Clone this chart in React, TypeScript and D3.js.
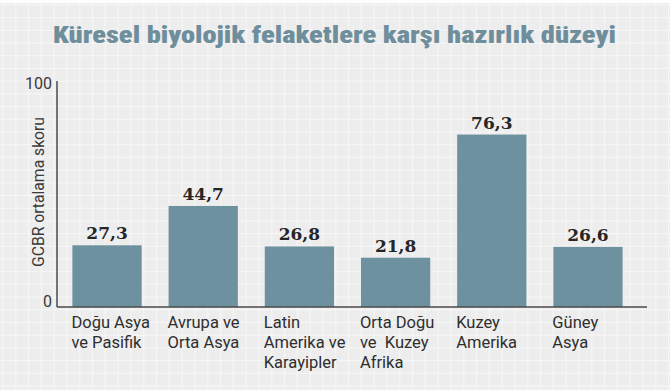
import React, { useRef, useEffect } from 'react';
import * as d3 from 'd3';

// data
const categories = [
  'Doğu Asya ve Pasifik',
  'Avrupa ve Orta Asya',
  'Latin Amerika ve Karayipler',
  'Orta Doğu ve Kuzey Afrika',
  'Kuzey Amerika',
  'Güney Asya',
];
const categoryLines = [
  ['Doğu Asya', 've Pasifik'],
  ['Avrupa ve', 'Orta Asya'],
  ['Latin', 'Amerika ve', 'Karayipler'],
  ['Orta Doğu', 've  Kuzey', 'Afrika'],
  ['Kuzey', 'Amerika'],
  ['Güney', 'Asya'],
];
const scores = [27.3, 44.7, 26.8, 21.8, 76.3, 26.6];
const yTicks = [0, 100];

const title = 'Küresel biyolojik felaketlere karşı hazırlık düzeyi';
const yLabel = 'GCBR ortalama skoru';

const W = 670;
const H = 390;

export default function App() {
  const svgRef = useRef<SVGSVGElement>(null);

  useEffect(() => {
    const svg = d3.select(svgRef.current);
    svg.selectAll('*').remove();

    const left = 57;
    const right = 647;
    const top = 81;
    const bottom = 307;

    // background + faint grid
    svg.append('rect').attr('width', W).attr('height', H).attr('fill', '#ededed');
    const grid = svg.append('g').attr('stroke', '#f7f7f7').attr('stroke-width', 1);
    d3.range(3, W, 12.8).forEach(gx => {
      grid.append('line').attr('x1', gx).attr('x2', gx).attr('y1', 0).attr('y2', H);
    });
    d3.range(5, H, 12.7).forEach(gy => {
      grid.append('line').attr('x1', 0).attr('x2', W).attr('y1', gy).attr('y2', gy);
    });
    svg.append('rect').attr('width', W).attr('height', 3).attr('fill', '#ffffff');

    // title
    svg.append('text')
      .attr('x', 334.5)
      .attr('y', 43)
      .attr('text-anchor', 'middle')
      .attr('textLength', 563)
      .attr('lengthAdjust', 'spacingAndGlyphs')
      .attr('font-family', "'Roboto Condensed', 'Liberation Sans Narrow', Roboto, sans-serif")
      .attr('font-weight', 900)
      .attr('font-size', 24)
      .attr('fill', '#6f8e9c')
      .text(title);

    const x = d3.scaleBand()
      .domain(categories)
      .range([left, 638])
      .paddingInner(0.28)
      .paddingOuter(0.16);

    const y = d3.scaleLinear().domain([0, 100]).range([bottom, top]);

    const fmt = d3.formatLocale({ decimal: ',', thousands: '.', grouping: [3], currency: ['', ''] }).format('.1f');

    // bars
    svg.append('g')
      .selectAll('rect')
      .data(scores)
      .enter().append('rect')
      .attr('x', (d, i) => x(categories[i]))
      .attr('y', d => y(d))
      .attr('width', x.bandwidth())
      .attr('height', d => y(0) - y(d))
      .attr('fill', '#6e919f');

    // value labels
    svg.append('g')
      .selectAll('text')
      .data(scores)
      .enter().append('text')
      .attr('x', (d, i) => x(categories[i]) + x.bandwidth() / 2)
      .attr('y', d => y(d) - 6)
      .attr('text-anchor', 'middle')
      .attr('font-family', "'DejaVu Serif', serif")
      .attr('font-weight', 700)
      .attr('font-size', 17)
      .attr('fill', '#262626')
      .text(d => fmt(d));

    // axes
    const axisColor = '#4a4a4a';
    svg.append('line')
      .attr('x1', left).attr('x2', left).attr('y1', top).attr('y2', bottom)
      .attr('stroke', axisColor).attr('stroke-width', 1.5);
    svg.append('line')
      .attr('x1', left).attr('x2', right).attr('y1', bottom).attr('y2', bottom)
      .attr('stroke', axisColor).attr('stroke-width', 1.5);

    const yAxis = svg.append('g')
      .attr('transform', `translate(${left},0)`)
      .call(d3.axisLeft(y).tickValues(yTicks).tickSize(0).tickPadding(5).tickFormat(d3.format('d')));
    yAxis.select('.domain').remove();
    yAxis.attr('font-family', 'Roboto, sans-serif').attr('font-size', 16);
    yAxis.selectAll('text')
      .attr('dy', d => (d === 0 ? '-0.02em' : '0.45em'))
      .attr('fill', '#3a3a3a');

    svg.append('text')
      .attr('transform', `translate(44,192) rotate(-90)`)
      .attr('text-anchor', 'middle')
      .attr('textLength', 150)
      .attr('lengthAdjust', 'spacingAndGlyphs')
      .attr('font-family', 'Roboto, sans-serif')
      .attr('font-size', 16)
      .attr('fill', '#3a3a3a')
      .text(yLabel);

    // category labels
    const cat = svg.append('g')
      .selectAll('text')
      .data(categories)
      .enter().append('text')
      .attr('x', d => (x(d) as number) - 1)
      .attr('y', 328)
      .attr('font-family', 'Roboto, sans-serif')
      .attr('font-size', 16.5)
      .attr('fill', '#2e2e2e');
    cat.selectAll('tspan')
      .data((d, i) => categoryLines[i])
      .enter().append('tspan')
      .attr('x', function () { return (this.parentNode as SVGTextElement).getAttribute('x'); })
      .attr('dy', (d, i) => (i === 0 ? 0 : 20))
      .style('white-space', 'pre')
      .text(d => d);
  }, []);

  return (
    <div style={{ position: 'absolute', left: 0, top: 0, width: W, height: H }}>
      <svg ref={svgRef} width={W} height={H} />
    </div>
  );
}
